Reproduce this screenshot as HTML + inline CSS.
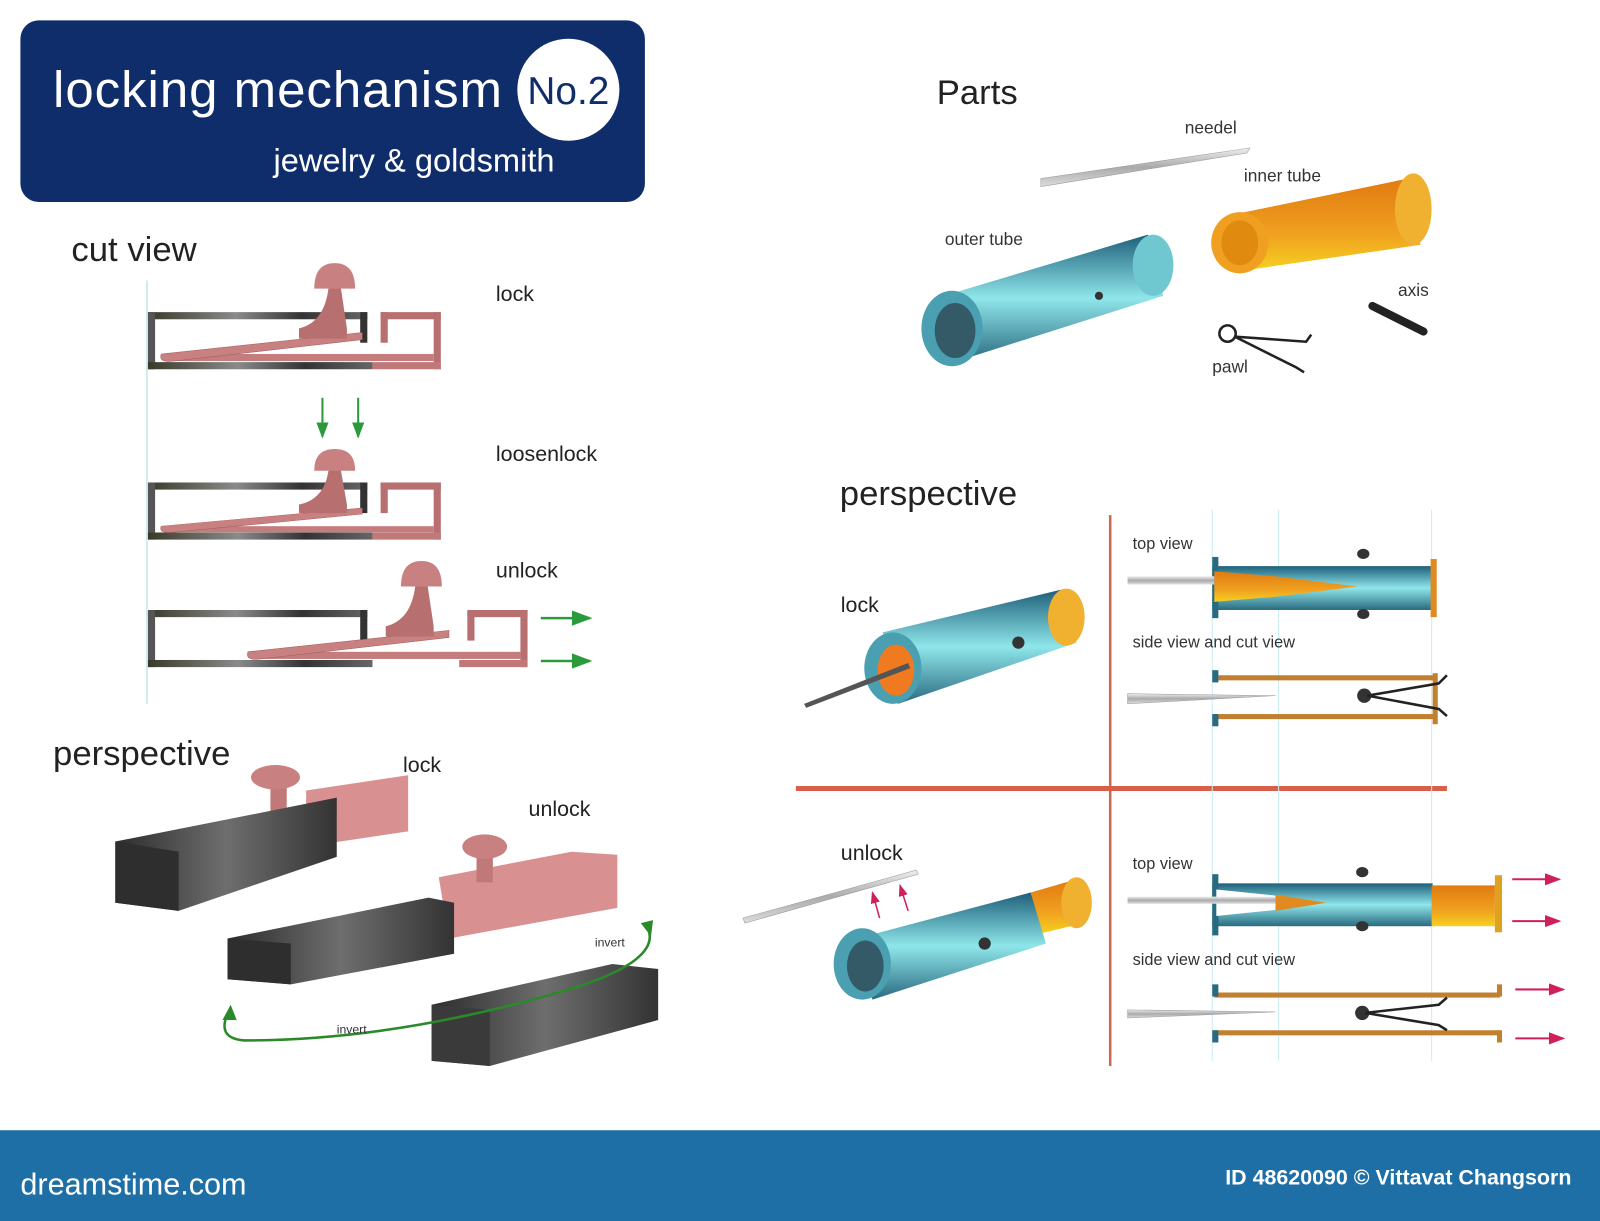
<!DOCTYPE html>
<html><head><meta charset="utf-8"><style>
html,body{margin:0;padding:0;background:#fff;width:1600px;height:1221px;overflow:hidden}
svg{display:block}
text{font-family:"Liberation Sans","DejaVu Sans",sans-serif}
</style></head><body>
<svg width="1600" height="1221" viewBox="0 0 1568 1197" preserveAspectRatio="none">
<defs>
<linearGradient id="gm" x1="0" x2="1"><stop offset="0" stop-color="#3a3a2a"/><stop offset=".4" stop-color="#8a8a8a"/><stop offset=".7" stop-color="#333"/><stop offset="1" stop-color="#666"/></linearGradient>
<linearGradient id="cy" x1="0" y1="0" x2="0" y2="1"><stop offset="0" stop-color="#1d5f7a"/><stop offset=".5" stop-color="#8fe6ea"/><stop offset="1" stop-color="#2a6a80"/></linearGradient>
<linearGradient id="or" x1="0" y1="0" x2="0" y2="1"><stop offset="0" stop-color="#e07a10"/><stop offset=".6" stop-color="#f0a020"/><stop offset="1" stop-color="#f5d020"/></linearGradient>
<linearGradient id="nd" x1="0" y1="0" x2="0" y2="1"><stop offset="0" stop-color="#eee"/><stop offset=".5" stop-color="#aaa"/><stop offset="1" stop-color="#ddd"/></linearGradient>
<linearGradient id="bk" x1="0" x2="1"><stop offset="0" stop-color="#2c2c2c"/><stop offset=".5" stop-color="#6e6e6e"/><stop offset="1" stop-color="#333"/></linearGradient>
<marker id="ag" markerWidth="8" markerHeight="8" refX="7" refY="4" orient="auto"><path d="M0,1 L8,4 L0,7z" fill="#2a9a3a"/></marker>
<marker id="ar" markerWidth="8" markerHeight="8" refX="7" refY="4" orient="auto"><path d="M0,1 L8,4 L0,7z" fill="#d0205a"/></marker>
<g id="frame">
<rect x="145" y="0" width="215" height="7" fill="url(#gm)"/>
<rect x="145" y="0" width="7" height="56" fill="#555"/>
<rect x="145" y="49" width="220" height="7" fill="url(#gm)"/>
<rect x="353" y="0" width="7" height="30" fill="#333"/>
</g>
<g id="bracket">
<rect x="373" y="0" width="59" height="7" fill="#b86f6f"/>
<rect x="425" y="0" width="7" height="56" fill="#b86f6f"/>
<rect x="365" y="49" width="67" height="7" fill="#c07878"/>
<rect x="373" y="0" width="7" height="30" fill="#b86f6f"/>
</g>
<g id="lever">
<rect x="165" y="41" width="260" height="7" fill="#c47c7c"/>
<path d="M158,41 L355,20 L355,27 L170,48 Q155,50 158,41 Z" fill="#c98080" stroke="#a05a5a" stroke-width=".5"/>
<path d="M293,26 L293,16 Q318,10 322,-24 L334,-24 L340,16 L340,26 Z" fill="#b86f6f"/>
<path d="M308,-23 Q308,-48 328,-48 Q348,-48 348,-23 Z" fill="#c98080"/>
</g>
</defs>
<rect width="1568" height="1197" fill="#fff"/>
<rect x="20" y="20" width="612" height="178" rx="18" fill="#0f2d6b"/>
<text x="52" y="105" font-size="50" fill="#fff" textLength="440">locking  mechanism</text>
<circle cx="557" cy="88" r="50" fill="#fff"/>
<text x="557" y="102" font-size="38" fill="#0f2d6b" text-anchor="middle">No.2</text>
<text x="268" y="168" font-size="32" fill="#fff">jewelry &amp; goldsmith</text>
<text x="70" y="256" font-size="34" fill="#222">cut view</text>
<text x="486" y="295" font-size="21" fill="#222">lock</text>
<text x="486" y="452" font-size="21" fill="#222">loosenlock</text>
<text x="486" y="566" font-size="21" fill="#222">unlock</text>
<line x1="144" y1="275" x2="144" y2="690" stroke="#bfe8ea" stroke-width="1.5"/>
<g transform="translate(0,306)"><use href="#frame"/><use href="#bracket"/><use href="#lever"/></g>
<g transform="translate(0,473)"><use href="#frame"/><use href="#bracket"/><g transform="translate(0,8) scale(1,.85)"><use href="#lever"/></g></g>
<line x1="316" y1="390" x2="316" y2="428" stroke="#2a9a3a" stroke-width="2" marker-end="url(#ag)"/>
<line x1="351" y1="390" x2="351" y2="428" stroke="#2a9a3a" stroke-width="2" marker-end="url(#ag)"/>
<g transform="translate(0,598)"><use href="#frame"/><g transform="translate(85,0)"><use href="#bracket"/><use href="#lever"/></g></g>
<line x1="530" y1="606" x2="578" y2="606" stroke="#2a9a3a" stroke-width="2.5" marker-end="url(#ag)"/>
<line x1="530" y1="648" x2="578" y2="648" stroke="#2a9a3a" stroke-width="2.5" marker-end="url(#ag)"/>
<text x="52" y="750" font-size="34" fill="#222">perspective</text>
<text x="395" y="757" font-size="21" fill="#222">lock</text>
<text x="518" y="800" font-size="21" fill="#222">unlock</text>
<path d="M300,775 L400,760 L400,815 L300,830Z" fill="#d89090"/>
<rect x="265" y="765" width="16" height="30" fill="#c07878"/>
<ellipse cx="270" cy="762" rx="24" ry="12" fill="#c98080"/>
<path d="M113,825 L330,782 L330,840 L175,893 L113,885Z" fill="url(#bk)"/>
<path d="M113,825 L175,835 L175,893 L113,885Z" fill="#2e2e2e"/>
<path d="M430,860 L560,835 L605,838 L605,890 L440,920Z" fill="#d89090"/>
<rect x="467" y="835" width="16" height="30" fill="#c07878"/>
<ellipse cx="475" cy="830" rx="22" ry="12" fill="#c98080"/>
<path d="M223,920 L420,880 L445,885 L445,935 L285,965 L223,960Z" fill="url(#bk)"/>
<path d="M223,920 L285,925 L285,965 L223,960Z" fill="#2e2e2e"/>
<path d="M423,985 L600,945 L645,950 L645,1000 L480,1045 L423,1040Z" fill="url(#bk)"/>
<path d="M423,985 L480,990 L480,1045 L423,1040Z" fill="#3a3a3a"/>
<path d="M635,910 Q650,945 540,975 Q380,1020 240,1020 Q210,1018 225,990" fill="none" stroke="#2a8a2a" stroke-width="2.5"/>
<path d="M628,905 L638,918 L640,902Z" fill="#2a8a2a"/>
<path d="M218,1000 L226,985 L232,1000Z" fill="#2a8a2a"/>
<text x="583" y="928" font-size="12" fill="#333">invert</text>
<text x="330" y="1013" font-size="12" fill="#333">invert</text>
<text x="918" y="102" font-size="34" fill="#222">Parts</text>
<text x="1161" y="131" font-size="17" fill="#333">needel</text>
<text x="1219" y="178" font-size="17" fill="#333">inner tube</text>
<text x="926" y="240" font-size="17" fill="#333">outer tube</text>
<text x="1370" y="290" font-size="17" fill="#333">axis</text>
<text x="1188" y="365" font-size="17" fill="#333">pawl</text>
<path d="M1020,175 L1225,145 L1222,150 L1020,183Z" fill="url(#nd)" stroke="#999" stroke-width=".5"/>
<path d="M1210,210 L1380,175 L1392,240 L1220,265Z" fill="url(#or)"/>
<ellipse cx="1215" cy="238" rx="28" ry="30" fill="#f0a020"/><ellipse cx="1215" cy="238" rx="18" ry="22" fill="#e08a10"/>
<ellipse cx="1385" cy="205" rx="18" ry="35" fill="#f0b030"/>
<path d="M925,290 L1125,230 L1140,290 L935,355Z" fill="url(#cy)"/>
<ellipse cx="1130" cy="260" rx="20" ry="30" fill="#6fc8d0"/>
<ellipse cx="933" cy="322" rx="30" ry="37" fill="#4a9fb0"/><ellipse cx="936" cy="324" rx="20" ry="27" fill="#335a66"/>
<circle cx="1077" cy="290" r="4" fill="#333"/>
<path d="M1345,300 L1395,325" stroke="#222" stroke-width="8" stroke-linecap="round"/>
<circle cx="1203" cy="327" r="8" fill="none" stroke="#222" stroke-width="2.5"/>
<path d="M1210,330 L1280,335 L1285,328 M1210,330 L1270,360 L1278,365" fill="none" stroke="#222" stroke-width="2.5"/>
<text x="823" y="495" font-size="34" fill="#222">perspective</text>
<text x="824" y="600" font-size="21" fill="#222">lock</text>
<text x="824" y="843" font-size="21" fill="#222">unlock</text>
<line x1="1088" y1="505" x2="1088" y2="1045" stroke="#c86a50" stroke-width="2.5"/>
<line x1="780" y1="773" x2="1418" y2="773" stroke="#d8604a" stroke-width="5"/>
<g stroke="#c8eef0" stroke-width="1"><line x1="1188" y1="500" x2="1188" y2="1040"/><line x1="1253" y1="500" x2="1253" y2="1040"/><line x1="1403" y1="500" x2="1403" y2="1040"/></g>
<path d="M865,620 L1040,578 L1055,630 L880,690Z" fill="url(#cy)"/>
<ellipse cx="1045" cy="605" rx="18" ry="28" fill="#f0b030"/>
<ellipse cx="875" cy="655" rx="28" ry="35" fill="#4a9fb0"/><ellipse cx="878" cy="657" rx="18" ry="25" fill="#f07a20"/>
<path d="M788,690 L890,650 L892,655 L790,694Z" fill="#555"/>
<circle cx="998" cy="630" r="6" fill="#333"/>
<path d="M728,900 L898,853 L900,857 L730,905Z" fill="url(#nd)" stroke="#999" stroke-width=".5"/>
<line x1="862" y1="900" x2="855" y2="875" stroke="#d0205a" stroke-width="1.5" marker-end="url(#ar)"/>
<line x1="890" y1="893" x2="882" y2="868" stroke="#d0205a" stroke-width="1.5" marker-end="url(#ar)"/>
<path d="M1010,875 L1055,862 L1062,905 L1020,915Z" fill="url(#or)"/>
<ellipse cx="1055" cy="885" rx="15" ry="25" fill="#f0b030"/>
<path d="M840,920 L1010,875 L1025,925 L855,980Z" fill="url(#cy)"/>
<ellipse cx="845" cy="945" rx="28" ry="35" fill="#4a9fb0"/><ellipse cx="848" cy="947" rx="18" ry="25" fill="#335a66"/>
<circle cx="965" cy="925" r="6" fill="#333"/>
<text x="1110" y="538" font-size="16" fill="#333">top view</text>
<text x="1110" y="635" font-size="16" fill="#333">side view and cut view</text>
<rect x="1188" y="555" width="216" height="43" fill="url(#cy)"/>
<rect x="1188" y="546" width="6" height="60" fill="#2a6a80"/>
<rect x="1402" y="548" width="6" height="57" fill="#e08a20"/>
<path d="M1190,560 L1250,565 L1330,575 L1250,585 L1190,590Z" fill="url(#or)"/>
<rect x="1105" y="565" width="85" height="8" fill="url(#nd)"/>
<ellipse cx="1336" cy="543" rx="6" ry="5" fill="#333"/><ellipse cx="1336" cy="602" rx="6" ry="5" fill="#333"/>
<rect x="1190" y="662" width="215" height="5" fill="#c08030"/><rect x="1190" y="700" width="215" height="5" fill="#c08030"/>
<rect x="1188" y="657" width="6" height="12" fill="#2a6a80"/><rect x="1188" y="700" width="6" height="12" fill="#2a6a80"/>
<rect x="1404" y="660" width="5" height="50" fill="#c08030"/>
<path d="M1105,680 L1250,682 L1105,690Z" fill="url(#nd)" stroke="#999" stroke-width=".5"/>
<circle cx="1337" cy="682" r="7" fill="#333"/>
<path d="M1340,682 L1410,670 L1418,662 M1340,682 L1410,695 L1418,702" fill="none" stroke="#222" stroke-width="2.5"/>
<text x="1110" y="852" font-size="16" fill="#333">top view</text>
<text x="1110" y="946" font-size="16" fill="#333">side view and cut view</text>
<rect x="1188" y="866" width="216" height="42" fill="url(#cy)"/>
<rect x="1188" y="857" width="6" height="60" fill="#2a6a80"/>
<rect x="1403" y="868" width="62" height="40" fill="url(#or)"/>
<rect x="1465" y="858" width="7" height="56" fill="#e0a020"/>
<path d="M1192,872 L1250,878 L1300,885 L1250,892 L1192,898Z" fill="#fff"/>
<path d="M1250,877 L1300,885 L1250,893Z" fill="#e08a20"/>
<rect x="1105" y="879" width="145" height="7" fill="url(#nd)"/>
<ellipse cx="1335" cy="855" rx="6" ry="5" fill="#333"/><ellipse cx="1335" cy="908" rx="6" ry="5" fill="#333"/>
<rect x="1190" y="973" width="280" height="5" fill="#c08030"/><rect x="1190" y="1010" width="280" height="5" fill="#c08030"/>
<rect x="1188" y="965" width="6" height="12" fill="#2a6a80"/><rect x="1188" y="1010" width="6" height="12" fill="#2a6a80"/>
<rect x="1467" y="965" width="5" height="12" fill="#c08030"/><rect x="1467" y="1010" width="5" height="12" fill="#c08030"/>
<path d="M1105,990 L1250,992 L1105,998Z" fill="url(#nd)" stroke="#999" stroke-width=".5"/>
<circle cx="1335" cy="993" r="7" fill="#333"/>
<path d="M1338,993 L1410,985 L1418,978 M1338,993 L1410,1005 L1418,1010" fill="none" stroke="#222" stroke-width="2.5"/>
<g stroke="#d0205a" stroke-width="2"><line x1="1482" y1="862" x2="1528" y2="862" marker-end="url(#ar)"/><line x1="1482" y1="903" x2="1528" y2="903" marker-end="url(#ar)"/><line x1="1485" y1="970" x2="1532" y2="970" marker-end="url(#ar)"/><line x1="1485" y1="1018" x2="1532" y2="1018" marker-end="url(#ar)"/></g>
<rect x="0" y="1108" width="1568" height="89" fill="#1d6fa5"/>
<text x="20" y="1171" font-size="30" fill="#fff">dreamstime.com</text>
<text x="1540" y="1161" font-size="21" font-weight="bold" fill="#fff" text-anchor="end">ID 48620090 © Vittavat Changsorn</text>
</svg>
</body></html>
